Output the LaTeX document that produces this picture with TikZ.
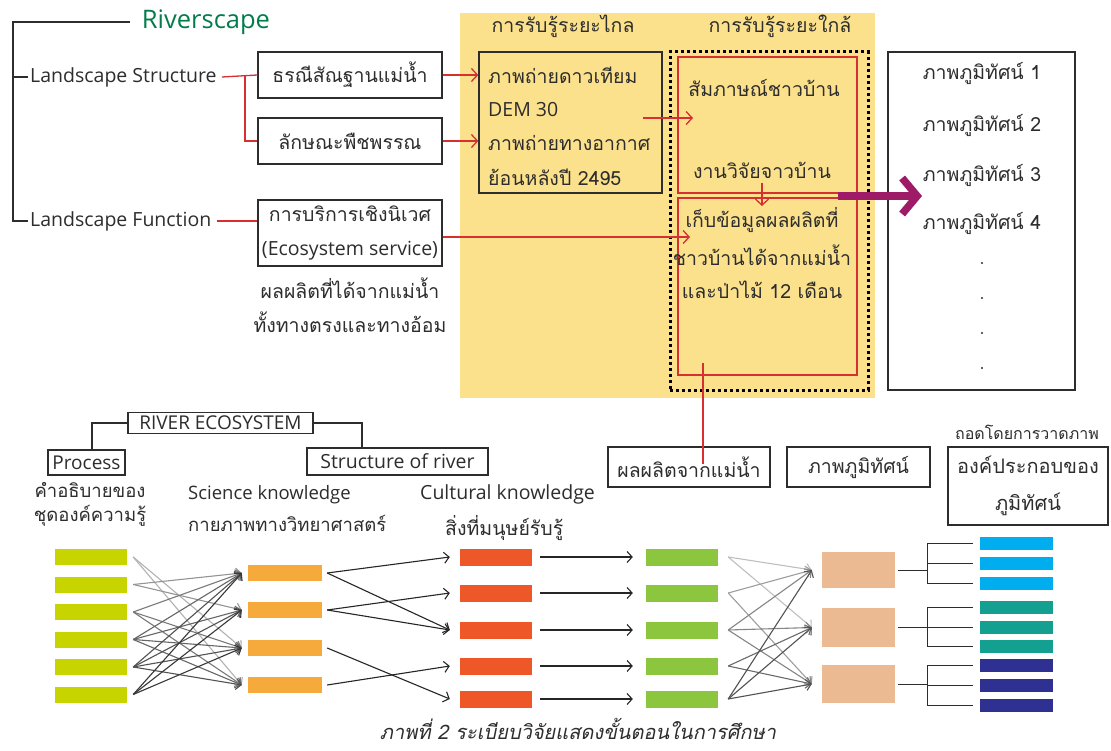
\documentclass[tikz,border=0pt]{standalone}
\usepackage{fontspec}
\setmainfont{Open Sans}
\newfontfamily\thfont[Script=Thai]{Loma}
\newfontfamily\thcap[Script=Thai,FakeSlant=0.2]{Loma}
\usetikzlibrary{arrows.meta}

\definecolor{rsgreen}{RGB}{0,125,75}
\definecolor{panel}{RGB}{252,225,140}
\definecolor{linkred}{RGB}{214,48,49}
\definecolor{plum}{RGB}{158,27,104}
\definecolor{ink}{RGB}{45,45,45}
\definecolor{lime}{RGB}{200,212,0}
\definecolor{amber}{RGB}{247,170,60}
\definecolor{vermil}{RGB}{238,88,40}
\definecolor{leaf}{RGB}{140,198,63}
\definecolor{peach}{RGB}{236,186,146}
\definecolor{sky}{RGB}{0,174,239}
\definecolor{teal2}{RGB}{20,160,145}
\definecolor{navy2}{RGB}{46,49,146}

\begin{document}
\begin{tikzpicture}[x=1pt,y=-1pt,
  every node/.style={text=ink, inner sep=0pt, font=\fontsize{19.5}{23}\selectfont},
  th/.style={font=\thfont\fontsize{19.5}{23}\selectfont},
  lt/.style={font=\fontsize{19.5}{23}\selectfont},
  ths/.style={font=\thfont\fontsize{18.5}{22}\selectfont},
  lts/.style={font=\fontsize{18.5}{22}\selectfont},
  frame/.style={draw=ink, line width=1.3pt},
  redframe/.style={draw=linkred, line width=1.3pt},
  tree/.style={draw=ink, line width=1.3pt},
  link/.style={draw=linkred, line width=1.3pt},
  linkarrow/.style={link, -{Straight Barb[length=6pt,width=13pt]}},
  fan/.style={line width=1.1pt, -{Straight Barb[length=5pt,width=11pt]}},
  stripe/.style={inner sep=0pt, draw=none},
  plumarrow/.style={draw=plum, line width=7.5pt, -{Straight Barb[length=15pt,width=36pt]}}
]
\useasboundingbox (0,0) rectangle (1111,751);
\fill[white] (0,0) rectangle (1111,751);

% ---------- upper part: riverscape tree ----------
\fill[panel] (460,13) rectangle (875,398);

\node[font=\fontsize{25.5}{30}\selectfont, text=rsgreen] (rs) at (206,22) {Riverscape};
\node[lt, anchor=west] (ls) at (30,77) {Landscape Structure};
\node[lt, anchor=west] (lf) at (30,221) {Landscape Function};

\coordinate (spine) at (13,22);
\draw[tree] ([xshift=-12pt]rs.west) -- (spine) |- ([xshift=-2pt]lf.west);
\draw[tree] (spine |- ls.west) -- ([xshift=-2pt]ls.west);

\node[frame, th, minimum width=184pt, minimum height=46pt] (geo) at (350,75) {ธรณีสัณฐานแม่น้ำ};
\node[frame, th, minimum width=184pt, minimum height=46pt] (veg) at (350,141) {ลักษณะพืชพรรณ};
\node[frame, minimum width=184pt, minimum height=66pt, align=center,
      font=\fontsize{19.5}{34}\selectfont] (eco) at (350,233)
      {{\thfont การบริการเชิงนิเวศ}\\(Ecosystem service)};
\node[th] (yield1) at (350,288) {ผลผลิตที่ได้จากแม่น้ำ};
\node[th] (yield2) at (350,322) {ทั้งทางตรงและทางอ้อม};

\coordinate (fork) at (245,0);
\draw[link] ([xshift=5pt]ls.east) -- (geo.west);
\draw[link] (fork |- geo.west) |- (veg.west);
\draw[link] ([xshift=5pt]lf.east) -- (lf.east -| eco.west);

% remote sensing column
\node[th] (far) at (563,26) {การรับรู้ระยะไกล};
\node[th] (near) at (780,26) {การรับรู้ระยะใกล้};
\node[frame, minimum width=183pt, minimum height=141pt] (remote) at (570.5,122.5) {};
\node[th, anchor=west] (sat) at (488,75) {ภาพถ่ายดาวเทียม};
\node[lt, anchor=west] (dem) at (488,110) {DEM 30};
\node[th, anchor=west] (air) at (488,143) {ภาพถ่ายทางอากาศ};
\node[th, anchor=west] (year) at (488,177) {ย้อนหลังปี 2495};
\draw[linkarrow] (geo.east) -- (geo.east -| remote.west);
\draw[linkarrow] (veg.east) -- (veg.east -| remote.west);

% field work column
\node[draw=black, line width=3pt, dash pattern=on 3pt off 3pt,
      minimum width=198pt, minimum height=338pt] (field) at (769,221) {};
\node[redframe, minimum width=179pt, minimum height=136pt] (talk) at (767.5,125) {};
\node[redframe, minimum width=179pt, minimum height=177pt] (harvest) at (767.5,286.5) {};
\node[th] (interview) at (764,88) {สัมภาษณ์ชาวบ้าน};
\node[th] (local) at (762,170) {งานวิจัยจาวบ้าน};
\node[th] (h1) at (762,220) {เก็บข้อมูลผลผลิตที่};
\node[th] (h2) at (762,255) {ชาวบ้านได้จากแม่น้ำ};
\node[th] (h3) at (762,290) {และป่าไม้ 12 เดือน};

\coordinate (r1out) at (643,118);
\coordinate (r1in) at (693,118);
\draw[linkarrow] (r1out) -- (r1in);
\coordinate (r2in) at (690,237);
\draw[linkarrow] (eco.east |- r2in) -- (r2in);
\coordinate (dtop) at (762,183);
\coordinate (dbot) at (762,206);
\draw[linkarrow] (dtop) -- (dbot);

% landscape pictures
\node[frame, minimum width=187pt, minimum height=338pt] (views) at (981.5,221) {};
\foreach \y/\n in {73/1,125/2,175/3,223/4}
  \node[th] (view\n) at (982,\y) {ภาพภูมิทัศน์ \n};
\foreach \y in {263,298,333,368}
  \fill[ink] (982,\y) circle (1.2pt);

\coordinate (plumstart) at (838,196);
\coordinate (plumtip) at (922,196);
\draw[plumarrow] (plumstart) -- (plumtip);

% ---------- lower part: river ecosystem ----------
\node[frame, font=\fontsize{19}{22}\selectfont, minimum width=185pt, minimum height=21pt] (re) at (220.5,423) {RIVER ECOSYSTEM};
\node[frame, font=\fontsize{19}{22}\selectfont, minimum width=77pt, minimum height=25pt] (proc) at (86.5,462.5) {Process};
\node[frame, font=\fontsize{19.5}{22}\selectfont, minimum width=181pt, minimum height=27pt] (struct) at (397.5,461.5) {Structure of river};
\coordinate (lb) at (92,0);
\coordinate (rb) at (362,0);
\draw[tree] (re.west) -| (lb |- proc.north);
\draw[tree] (re.east) -| (rb |- struct.north);

\node[ths] (desc1) at (90,490) {คำอธิบายของ};
\node[ths] (desc2) at (90,516) {ชุดองค์ความรู้};
\node[lts, anchor=west] (sci1) at (188,495) {Science knowledge};
\node[ths, anchor=west] (sci2) at (188,523) {กายภาพทางวิทยาศาสตร์};
\node[lt, anchor=west] (cul1) at (420,494) {Cultural knowledge};
\node[th, anchor=west] (cul2) at (445,528) {สิ่งที่มนุษย์รับรู้};

\coordinate (drop) at (703,363);
\node[frame, th, minimum width=162pt, minimum height=40pt] (prod) at (689,467) {ผลผลิตจากแม่น้ำ};
\draw[link] (drop) -- ([yshift=3pt]drop |- prod.center);

\node[frame, th, minimum width=143pt, minimum height=40pt] (land) at (858.5,467) {ภาพภูมิทัศน์};
\node[font=\thfont\fontsize{16}{20}\selectfont] (draw) at (1027,432) {ถอดโดยการวาดภาพ};
\node[frame, minimum width=160pt, minimum height=78pt, align=center,
      font=\thfont\fontsize{20}{37}\selectfont] (comp) at (1028,486) {องค์ประกอบของ\\ภูมิทัศน์};

% bars
\foreach \y [count=\i] in {557,584.5,612,639.5,667,694.5}
  \node[stripe, fill=lime, minimum width=72pt, minimum height=16pt] (a\i) at (91,\y) {};
\foreach \y [count=\i] in {573,610,648,685}
  \node[stripe, fill=amber, minimum width=74pt, minimum height=16pt] (b\i) at (285,\y) {};
\foreach \y [count=\i] in {557,593,630,666,699}
  \node[stripe, fill=vermil, minimum width=72pt, minimum height=17pt] (c\i) at (496,\y) {};
\foreach \y [count=\i] in {557,593,630,666,699}
  \node[stripe, fill=leaf, minimum width=72pt, minimum height=17pt] (d\i) at (682,\y) {};
\node[stripe, fill=peach, minimum width=73pt, minimum height=36pt] (p1) at (858.5,570) {};
\node[stripe, fill=peach, minimum width=73pt, minimum height=39pt] (p2) at (858.5,627.5) {};
\node[stripe, fill=peach, minimum width=73pt, minimum height=38pt] (p3) at (858.5,684) {};
\foreach \y/\c [count=\i] in {543/sky,563/sky,583/sky,607/teal2,627/teal2,646/teal2,665/navy2,685/navy2,705/navy2}
  \node[stripe, fill=\c, minimum width=73pt, minimum height=13pt] (e\i) at (1016.5,\y) {};

% knowledge links
\foreach \s/\t/\g in {1/3/30,1/4/30,2/1/42,2/2/42,3/1/52,3/3/52,3/4/52,4/1/60,4/2/60,4/3/60,4/4/60,5/1/68,5/2/68,5/3/68,5/4/68,6/1/78,6/2/78,6/3/78}
  \draw[fan, draw=black!\g] ([xshift=6pt]a\s.east) -- ([xshift=-6pt]b\t.west);
\foreach \s/\t in {1/1,1/3,2/2,2/3,3/5,4/4}
  \draw[fan, draw=black!85] ([xshift=5pt]b\s.east) -- ([xshift=-10pt]c\t.west);
\foreach \i in {1,...,5}
  \draw[fan, draw=black!85] ([xshift=8pt]c\i.east) -- ([xshift=-13pt]d\i.west);
\foreach \s/\t/\g in {1/1/25,1/2/25,2/1/38,2/3/38,3/1/48,3/2/48,3/3/48,4/2/58,4/3/58,5/1/68,5/2/68,5/3/68}
  \draw[fan, draw=black!\g] ([xshift=10pt]d\s.east) -- ([xshift=-10pt]p\t.west);

% decomposition brackets
\coordinate (trunk) at (927,0);
\foreach \k in {1,2,3} {
  \pgfmathtruncatemacro\ktop{3*\k-2}
  \pgfmathtruncatemacro\kbot{3*\k}
  \draw[tree, line width=1pt] ([xshift=3pt]p\k.east) -- (trunk |- p\k.east);
  \draw[tree, line width=1pt] (trunk |- e\ktop.west) -- (trunk |- e\kbot.west);
  \foreach \j in {\ktop,...,\kbot}
    \draw[tree, line width=1pt] (trunk |- e\j.west) -- ([xshift=-7pt]e\j.west);
}

\node[font=\thcap\fontsize{20}{24}\selectfont] (caption) at (578,729) {ภาพที่ 2 ระเบียบวิจัยแสดงขั้นตอนในการศึกษา};
\end{tikzpicture}
\end{document}
